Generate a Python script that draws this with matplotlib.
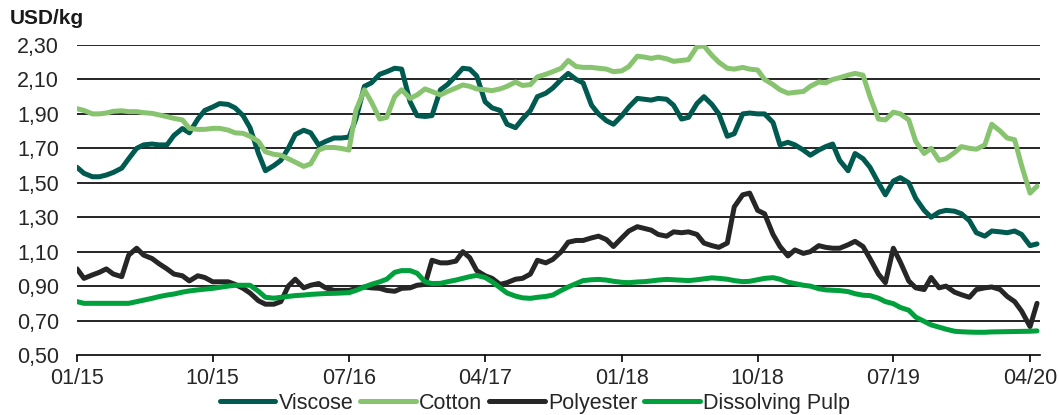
import matplotlib
matplotlib.use('Agg')
import matplotlib.pyplot as plt
import matplotlib.dates as mdates
import pandas as pd

plt.rcParams['font.family'] = ['Liberation Sans', 'DejaVu Sans']

# semi-monthly readings, 01/2015 .. 04/2020
dates = pd.date_range('2015-01-01', '2020-04-16', freq='SMS')

viscose = [
    1.59, 1.555, 1.535, 1.535, 1.545, 1.56, 1.585, 1.64, 1.70, 1.72, 1.725, 1.72,
    1.72, 1.775, 1.815, 1.79, 1.87, 1.92, 1.94, 1.96, 1.955, 1.935,
    1.89, 1.82, 1.67, 1.57, 1.60, 1.63, 1.70, 1.78, 1.805, 1.79, 1.72, 1.74,
    1.76, 1.76, 1.765, 1.87, 2.06, 2.08, 2.13, 2.145, 2.165, 2.16, 1.97, 1.89,
    1.885, 1.89, 2.04, 2.07, 2.12, 2.165, 2.16, 2.12, 1.97, 1.935, 1.92, 1.84,
    1.82, 1.87, 1.92, 2.00, 2.02, 2.05, 2.10, 2.135, 2.10, 2.08, 1.95, 1.90,
    1.86, 1.84, 1.89, 1.94, 1.99, 1.985, 1.98, 1.99, 1.985, 1.95, 1.87, 1.88,
    1.96, 2.00, 1.955, 1.90, 1.77, 1.785, 1.90, 1.905, 1.90, 1.90, 1.85, 1.72,
    1.735, 1.72, 1.69, 1.66, 1.69, 1.71, 1.725, 1.63, 1.57, 1.67, 1.64, 1.59,
    1.50, 1.43, 1.51, 1.53, 1.50, 1.41, 1.34, 1.30, 1.33, 1.34, 1.335, 1.32,
    1.28, 1.21, 1.19, 1.22, 1.215, 1.21, 1.22, 1.20, 1.135, 1.145,
]

cotton = [
    1.93, 1.92, 1.90, 1.90, 1.905, 1.915, 1.918, 1.913, 1.913, 1.907, 1.903, 1.894,
    1.884, 1.874, 1.865, 1.816, 1.81, 1.81, 1.816, 1.816, 1.806, 1.79,
    1.787, 1.77, 1.74, 1.68, 1.665, 1.66, 1.64, 1.62, 1.595, 1.61, 1.69, 1.705,
    1.705, 1.70, 1.69, 1.92, 2.04, 1.97, 1.87, 1.88, 2.00, 2.04, 1.99, 2.01,
    2.045, 2.03, 2.01, 2.03, 2.05, 2.068, 2.06, 2.045, 2.04, 2.035, 2.045, 2.06,
    2.085, 2.065, 2.07, 2.115, 2.13, 2.145, 2.165, 2.21, 2.175, 2.17, 2.17, 2.165,
    2.16, 2.145, 2.15, 2.175, 2.235, 2.23, 2.222, 2.23, 2.22, 2.205, 2.21, 2.215,
    2.29, 2.295, 2.24, 2.20, 2.165, 2.16, 2.17, 2.16, 2.155, 2.10, 2.07, 2.04,
    2.02, 2.025, 2.03, 2.06, 2.085, 2.08, 2.10, 2.11, 2.125, 2.135, 2.125, 2.00,
    1.87, 1.865, 1.91, 1.90, 1.865, 1.74, 1.67, 1.70, 1.63, 1.64, 1.675, 1.71,
    1.70, 1.695, 1.72, 1.84, 1.80, 1.76, 1.75, 1.60, 1.44, 1.48,
]

polyester = [
    1.00, 0.945, 0.965, 0.98, 1.00, 0.97, 0.955, 1.08, 1.12, 1.08, 1.06, 1.03,
    1.00, 0.97, 0.96, 0.93, 0.96, 0.95, 0.925, 0.925, 0.925, 0.91,
    0.887, 0.86, 0.815, 0.795, 0.795, 0.81, 0.90, 0.94, 0.89, 0.905, 0.915, 0.89,
    0.875, 0.875, 0.875, 0.885, 0.895, 0.89, 0.887, 0.875, 0.87, 0.887, 0.89, 0.905,
    0.91, 1.05, 1.035, 1.035, 1.045, 1.10, 1.065, 0.99, 0.96, 0.945, 0.91, 0.92,
    0.94, 0.945, 0.97, 1.05, 1.035, 1.055, 1.10, 1.155, 1.165, 1.165, 1.18, 1.19,
    1.17, 1.13, 1.18, 1.22, 1.245, 1.235, 1.225, 1.20, 1.19, 1.215, 1.21, 1.215,
    1.20, 1.15, 1.135, 1.125, 1.15, 1.36, 1.43, 1.44, 1.34, 1.32, 1.20, 1.13,
    1.075, 1.11, 1.09, 1.10, 1.135, 1.125, 1.12, 1.12, 1.14, 1.16, 1.13, 1.06,
    0.97, 0.92, 1.12, 1.04, 0.93, 0.89, 0.88, 0.95, 0.89, 0.90, 0.865, 0.85,
    0.835, 0.88, 0.89, 0.895, 0.88, 0.84, 0.81, 0.755, 0.665, 0.80,
]

pulp = [
    0.81, 0.80, 0.80, 0.80, 0.80, 0.80, 0.80, 0.80, 0.81, 0.819, 0.829, 0.839,
    0.848, 0.854, 0.865, 0.872, 0.878, 0.882, 0.887, 0.893, 0.90, 0.905,
    0.905, 0.905, 0.87, 0.835, 0.83, 0.835, 0.84, 0.845, 0.848, 0.852, 0.855, 0.857,
    0.858, 0.86, 0.862, 0.875, 0.895, 0.91, 0.925, 0.94, 0.98, 0.99, 0.99, 0.975,
    0.925, 0.915, 0.916, 0.925, 0.935, 0.945, 0.955, 0.962, 0.95, 0.925, 0.89, 0.86,
    0.842, 0.832, 0.829, 0.835, 0.84, 0.848, 0.875, 0.895, 0.915, 0.932, 0.937, 0.939,
    0.935, 0.928, 0.922, 0.92, 0.924, 0.926, 0.93, 0.935, 0.939, 0.937, 0.934, 0.932,
    0.937, 0.942, 0.948, 0.945, 0.94, 0.932, 0.926, 0.928, 0.937, 0.945, 0.949, 0.94,
    0.923, 0.915, 0.905, 0.90, 0.885, 0.878, 0.876, 0.874, 0.868, 0.856, 0.847, 0.845,
    0.83, 0.81, 0.798, 0.776, 0.76, 0.72, 0.695, 0.675, 0.662, 0.65, 0.638, 0.635,
    0.633, 0.632, 0.632, 0.634, 0.635, 0.636, 0.637, 0.638, 0.638, 0.64,
]

names = ['Viscose', 'Cotton', 'Polyester', 'Dissolving Pulp']
colors = ['#005a50', '#88c46f', '#262626', '#00a03c']
yticks = [0.50, 0.70, 0.90, 1.10, 1.30, 1.50, 1.70, 1.90, 2.10, 2.30]
xticks = ['2015-01-01', '2015-10-01', '2016-07-01', '2017-04-01',
          '2018-01-01', '2018-10-01', '2019-07-01', '2020-04-01']

fig = plt.figure(figsize=(10.59, 4.15), dpi=100)
ax = fig.add_axes([77 / 1059, 1 - 355 / 415, (1040 - 77) / 1059, 310 / 415])

for vals, name, c in zip([viscose, cotton, polyester, pulp], names, colors):
    ax.plot(dates, vals, color=c, lw=3.6, label=name,
            solid_capstyle='round', solid_joinstyle='round', zorder=3)

ax.set_ylim(0.5, 2.3)
ax.set_yticks(yticks)
ax.set_yticklabels([('%.2f' % v).replace('.', ',') for v in yticks])
ax.set_xlim(pd.Timestamp('2015-01-01'), pd.Timestamp('2020-04-21'))
ax.set_xticks(pd.to_datetime(xticks))
ax.xaxis.set_major_formatter(mdates.DateFormatter('%m/%y'))

for v in yticks[1:]:
    ax.axhline(v, color='black', lw=1.2, zorder=1)

for s in ['top', 'right', 'left']:
    ax.spines[s].set_visible(False)
ax.spines['bottom'].set_color('black')
ax.spines['bottom'].set_linewidth(1.2)
ax.tick_params(axis='y', length=0, pad=13, labelsize=15.5, labelcolor='#262626')
ax.tick_params(axis='x', length=5, width=1.2, direction='out', pad=4,
               labelsize=15.5, labelcolor='#262626')

fig.text(10 / 1059, 1 - 18 / 415, 'USD/kg', fontsize=15, fontweight='bold',
         color='#1a1a1a', va='center', ha='left')

fig.legend(loc='center', bbox_to_anchor=(0.505, 1 - 403 / 415), ncol=4,
           frameon=False, fontsize=15.5, handlelength=2.6, handletextpad=0.15,
           columnspacing=0.3, borderaxespad=0, labelcolor='#262626')

fig.savefig('out.png', dpi=100)
